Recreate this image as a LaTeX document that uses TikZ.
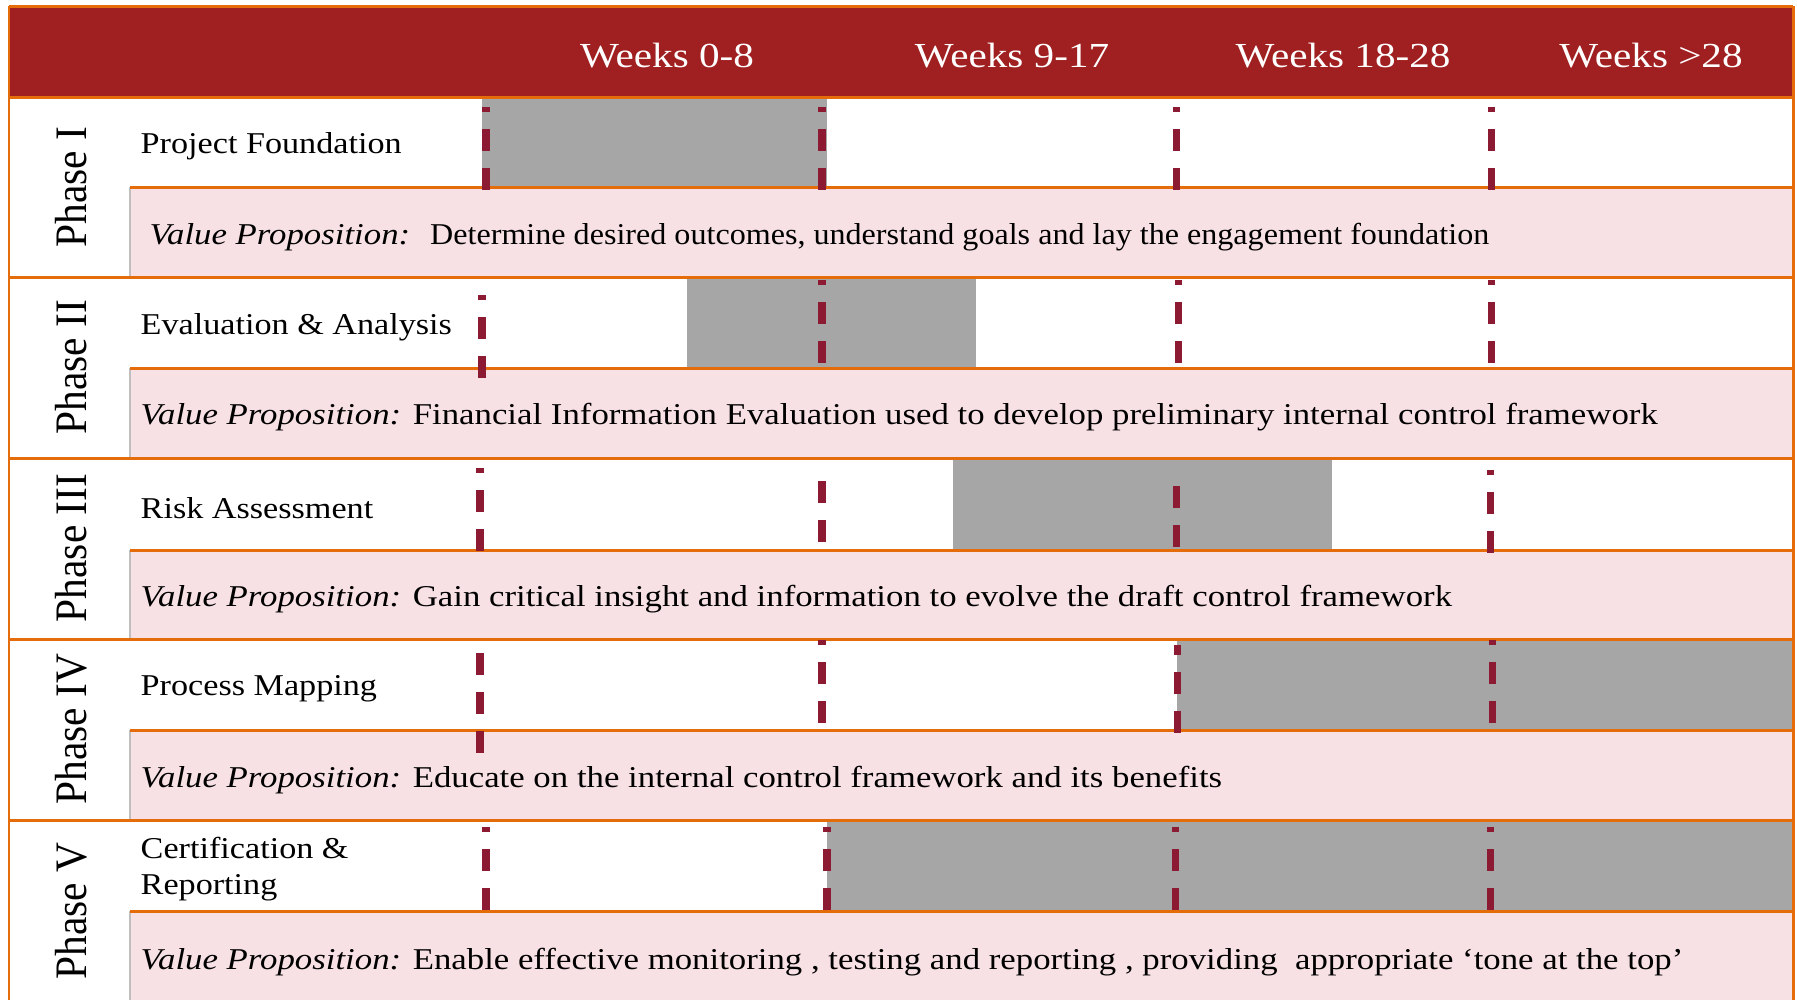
\documentclass[tikz,border=0pt]{standalone}
\usepackage{fontspec}
\setmainfont{Liberation Serif}[FakeStretch=1.15]
\newfontfamily\taskfont{Liberation Serif}[FakeStretch=1.13]
\newfontfamily\hdrfont{Liberation Serif}[FakeStretch=1.17]
\newfontfamily\phfont{Liberation Serif}[FakeStretch=0.92]
\definecolor{hdrred}{HTML}{A01F20}
\definecolor{lineorange}{HTML}{E46C0A}
\definecolor{rowpink}{HTML}{F8E1E5}
\definecolor{bargray}{HTML}{A6A6A6}
\definecolor{dashred}{HTML}{8C1A32}
\tikzset{
  hdr/.style={text=white, font=\hdrfont\fontsize{10}{12}\selectfont, inner sep=0pt},
  phlabel/.style={rotate=90, font=\phfont\fontsize{12.8}{14}\selectfont, inner sep=0pt},
  task/.style={anchor=west, font=\taskfont\fontsize{8.6}{10.2}\selectfont, align=left, inner sep=0pt},
  vp/.style={anchor=west, font=\fontsize{8.6}{10.2}\selectfont, inner sep=0pt},
  orangeline/.style={draw=lineorange, line width=0.85pt},
  dline/.style={draw=dashred, line width=2pt, dash pattern=on 6.26pt off 4.84pt},
  bar/.style={fill=bargray}
}
\newcommand{\dln}[4]{\draw[dline, dash phase=#4] (#1,#2) -- (#1,#3);}
\begin{document}
\begin{tikzpicture}[x=0.01cm,y=-0.01cm]
\useasboundingbox (0,0) rectangle (1797,999);
\clip (0,0) rectangle (1797,999);
\fill[white] (0,0) rectangle (1797,999);
% header
\fill[hdrred] (9,6) rectangle (1793,97);
% pink value-proposition rows
\foreach \m/\b in {187/277, 368/458, 550/639, 730/820, 911/1005}{
  \fill[rowpink] (130,\m) rectangle (1793,\b);
  \draw[black!25, line width=0.4pt] (130,\m) -- (130,\b);
}
% gantt bars
\fill[bar] (482,97) rectangle (827,187);
\fill[bar] (687,277) rectangle (976,368);
\fill[bar] (953,458) rectangle (1332,550);
\fill[bar] (1177,639) rectangle (1793,730);
\fill[bar] (827,820) rectangle (1793,911);
% orange rules
\draw[orangeline] (9,6) -- (1793,6);
\foreach \t in {97, 277, 458, 639, 820}{
  \draw[orangeline] (9,\t) -- (1793,\t);
}
\foreach \m in {187, 368, 550, 730, 911}{
  \draw[orangeline] (130,\m) -- (1793,\m);
}
\draw[orangeline] (9,6) -- (9,1005);
\draw[orangeline] (1793,6) -- (1793,1005);
% dashed week dividers
% Phase I
\dln{486}{107}{193}{4.84pt}
\dln{822}{107}{193}{4.84pt}
\dln{1176}{107}{193}{4.84pt}
\dln{1491}{107}{193}{4.84pt}
% Phase II
\dln{482}{295}{381}{4.84pt}
\dln{822}{280}{367}{4.84pt}
\dln{1178}{280}{366}{4.84pt}
\dln{1491}{280}{367}{4.84pt}
% Phase III
\dln{480}{468}{553}{4.84pt}
\dln{822}{481}{544}{0pt}
\dln{1176}{486}{548}{0pt}
\dln{1490}{470}{553}{4.84pt}
% Phase IV
\dln{480}{653}{753}{0pt}
\dln{822}{640}{725}{4.84pt}
\dln{1177}{645}{737}{3.41pt}
\dln{1492}{640}{727}{4.84pt}
% Phase V
\dln{486}{827}{913}{4.84pt}
\dln{827}{827}{912}{4.84pt}
\dln{1175}{827}{912}{4.84pt}
\dln{1490}{827}{913}{4.84pt}
% header texts
\node[hdr] (w1) at (667,56) {Weeks 0-8};
\node[hdr] (w2) at (1012,56) {Weeks 9-17};
\node[hdr] (w3) at (1343,56) {Weeks 18-28};
\node[hdr] (w4) at (1651,56) {Weeks >28};
% phase labels
\node[phlabel] (ph1) at (71,187) {Phase I};
\node[phlabel] (ph2) at (71,367) {Phase II};
\node[phlabel] (ph3) at (71,548) {Phase III};
\node[phlabel] (ph4) at (71,729) {Phase IV};
\node[phlabel] (ph5) at (71,911) {Phase V};
% tasks
\node[task] (t1) at (140,146) {Project Foundation};
\node[task] (t2) at (140,327) {Evaluation \& Analysis};
\node[task] (t3) at (140,508) {Risk Assessment};
\node[task] (t4) at (140,689) {Process Mapping};
\node[task] (t5) at (140,869) {Certification \&\\Reporting};
% value propositions
\node[vp] (v1) at (149,237) {\textit{Value Proposition:}\hspace{0.2cm}\scalebox{0.923}[1]{Determine desired outcomes,\ understand goals and lay the engagement foundation}};
\node[vp] (v2) at (140,417) {\textit{Value Proposition:} Financial Information Evaluation used to develop preliminary internal control framework};
\node[vp] (v3) at (140,599) {\textit{Value Proposition:} Gain critical insight and information to evolve the draft control framework};
\node[vp] (v4) at (140,780) {\textit{Value Proposition:} Educate on the internal control framework and its benefits};
\node[vp] (v5) at (140,962) {\textit{Value Proposition:} Enable effective monitoring , testing and reporting , providing\ \ appropriate ‘tone at the top’};
\end{tikzpicture}
\end{document}
